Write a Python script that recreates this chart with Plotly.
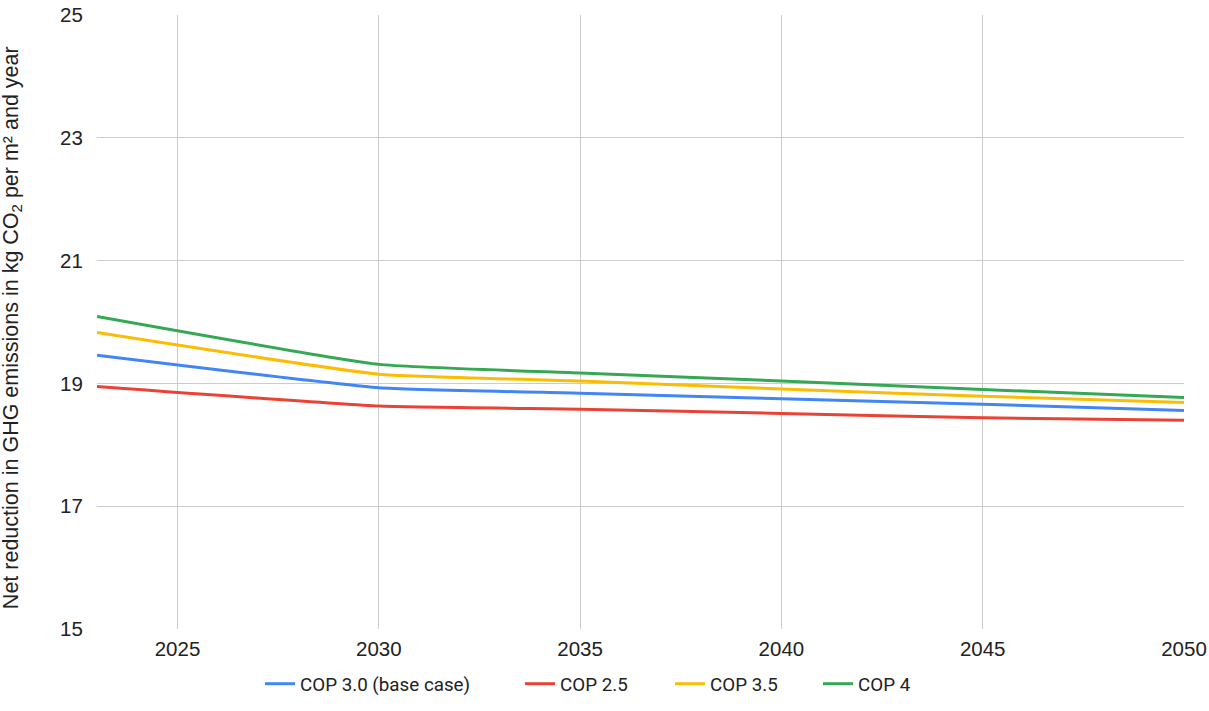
import plotly.graph_objects as go

years = [2023, 2030, 2035, 2040, 2045, 2050]
cop30 = [19.46, 18.93, 18.84, 18.75, 18.66, 18.56]
cop25 = [18.95, 18.63, 18.58, 18.51, 18.44, 18.40]
cop35 = [19.83, 19.15, 19.04, 18.91, 18.79, 18.69]
cop40 = [20.09, 19.31, 19.17, 19.04, 18.90, 18.77]

series = [
    ("COP 3.0 (base case)", cop30, "#4285F4"),
    ("COP 2.5", cop25, "#EA4335"),
    ("COP 3.5", cop35, "#FBBC04"),
    ("COP 4", cop40, "#34A853"),
]

x_ticks = [2025, 2030, 2035, 2040, 2045, 2050]
y_ticks = [15, 17, 19, 21, 23, 25]

W, H = 1209, 711
legend_px = [265, 525, 675, 823]
legend_names = ["legend", "legend2", "legend3", "legend4"]

fig = go.Figure()
for (name, vals, color), lg in zip(series, legend_names):
    fig.add_trace(go.Scatter(
        x=years, y=vals, name=name, mode="lines", legend=lg,
        line=dict(color=color, width=3, shape="spline", smoothing=0.4),
    ))

legend_common = dict(orientation="h", xref="container", yref="container",
                     xanchor="left", yanchor="middle", y=27 / H,
                     font=dict(family="Roboto, Arial, sans-serif", size=18.8, color="#222"),
                     bgcolor="rgba(0,0,0,0)", borderwidth=0)
layout_legends = {}
for lg, px in zip(legend_names, legend_px):
    layout_legends[lg] = dict(legend_common, x=(px - 5) / W)

fig.update_layout(
    width=W, height=H,
    margin=dict(l=97, r=25, t=15, b=82, autoexpand=False),
    paper_bgcolor="white", plot_bgcolor="white",
    font=dict(family="Liberation Sans, Arial, sans-serif", size=20, color="#222"),
    showlegend=True,
    xaxis=dict(range=[2023, 2050], tickvals=x_ticks, showgrid=True, gridcolor="#cccccc",
               gridwidth=1, zeroline=False, showline=False, ticks="outside", ticklen=1,
               tickcolor="rgba(0,0,0,0)", automargin=False, ticklabeloverflow="allow",
               tickfont=dict(size=20.5, color="#222")),
    yaxis=dict(range=[15, 25], tickvals=y_ticks, showgrid=True, gridcolor="#cccccc",
               gridwidth=1, zeroline=False, showline=False, ticks="outside", ticklen=9,
               tickcolor="rgba(0,0,0,0)", automargin=False, ticklabeloverflow="allow",
               tickfont=dict(size=20.5, color="#222")),
    annotations=[dict(
        text="Net reduction in GHG emissions in kg CO<sub>2</sub> per m² and year",
        xref="paper", yref="paper", x=0, y=0.49, xanchor="center", yanchor="middle",
        xshift=-85, textangle=-90, showarrow=False,
        font=dict(size=21.5, color="#222"),
    )],
    **layout_legends,
)

fig.write_html("out.html", config={"displayModeBar": False},
               post_script="document.body.style.margin='0';")
